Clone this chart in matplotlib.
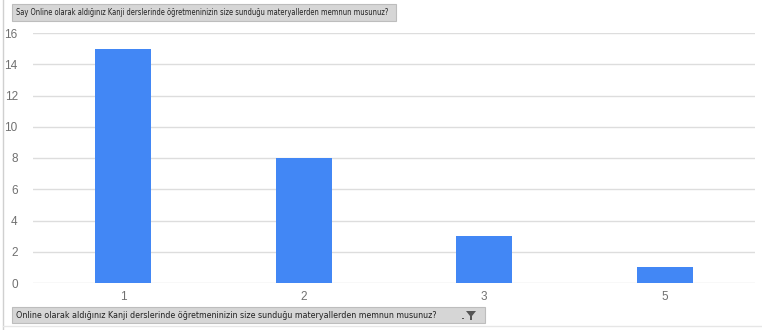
import matplotlib
matplotlib.use("Agg")
import matplotlib.pyplot as plt
from matplotlib.patches import Rectangle, Polygon
from matplotlib.lines import Line2D

plt.rcParams["font.family"] = ["Liberation Sans", "DejaVu Sans"]

# ── Data ──────────────────────────────────────────────────────────────────────
categories = ["1", "2", "3", "5"]
counts = [15, 8, 3, 1]
y_ticks = [0, 2, 4, 6, 8, 10, 12, 14, 16]

top_label = "Say Online olarak aldığınız Kanji derslerinde öğretmeninizin size sunduğu materyallerden memnun musunuz?"
bottom_label = "Online olarak aldığınız Kanji derslerinde öğretmeninizin size sunduğu materyallerden memnun musunuz?"

W, H = 762, 330
fig = plt.figure(figsize=(W / 100, H / 100), dpi=100)
fig.patch.set_facecolor("white")

ax = fig.add_axes([33 / W, (H - 283) / H, (755 - 33) / W, 250 / H])
x = list(range(len(categories)))
ax.bar(x, counts, width=0.31, color="#4287f5", zorder=3)
ax.set_xlim(-0.5, len(categories) - 0.5)
ax.set_ylim(0, 16)
ax.set_yticks(y_ticks)
ax.set_xticks(x)
ax.set_xticklabels(categories)
ax.grid(axis="y", color="#dddddd", linewidth=1, zorder=0)
for s in ax.spines.values():
    s.set_visible(False)
ax.tick_params(length=0, labelsize=8.5, colors="#707070")
ax.tick_params(axis="y", pad=11)
ax.tick_params(axis="x", pad=6)

# ── Frame lines ───────────────────────────────────────────────────────────────
fig.add_artist(Line2D([3 / W, 3 / W], [0, 1], color="#d0d0d0", linewidth=1))
fig.add_artist(Line2D([3 / W, 1], [(H - 326) / H, (H - 326) / H], color="#e6e6e6", linewidth=1))


def field_button(x0, y0, w, h, label, size, funnel=False):
    fig.add_artist(Rectangle((x0 / W, (H - y0 - h) / H), w / W, h / H,
                             facecolor="#d6d6d6", edgecolor="#bdbdbd", linewidth=0.8))
    fig.text((x0 + 4) / W, (H - y0 - h / 2) / H, label, fontsize=size,
             family="DejaVu Sans", fontstretch="condensed",
             color="#222222", va="center", ha="left")
    if funnel:
        fx = x0 + w - 14
        fy = H - y0 - h / 2
        pts = [(fx - 5, fy + 4), (fx + 5, fy + 4), (fx + 1, fy - 1),
               (fx + 1, fy - 5), (fx - 1, fy - 5), (fx - 1, fy - 1)]
        fig.add_artist(Polygon([(px / W, py / H) for px, py in pts],
                               closed=True, facecolor="#555555", edgecolor="none"))
        fig.add_artist(Rectangle(((fx - 9) / W, (fy - 4) / H), 1.5 / W, 1.5 / H,
                                 facecolor="#555555", edgecolor="none"))


field_button(12, 4, 384, 17, top_label, 5.45)
field_button(12, 307, 473, 16, bottom_label, 6.4, funnel=True)

plt.savefig("out.png", dpi=100)
